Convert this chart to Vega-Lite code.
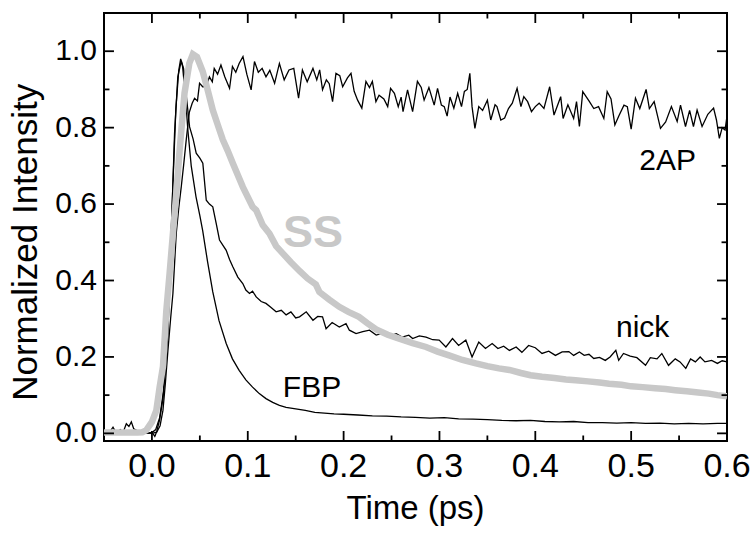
{
  "$schema": "https://vega.github.io/schema/vega-lite/v6.json",
  "width": 623,
  "height": 428,
  "autosize": {"type": "none"},
  "padding": {"left": 104, "top": 13, "right": 27, "bottom": 93},
  "background": "white",
  "config": {
    "view": {"stroke": "#000", "strokeWidth": 2},
    "font": "Liberation Sans"
  },
  "datasets": {
    "black": [
      {"s":"FBP","t":-0.050,"v":0.003},{"s":"FBP","t":-0.045,"v":0.000},{"s":"FBP","t":-0.040,"v":0.004},{"s":"FBP","t":-0.035,"v":0.001},{"s":"FBP","t":-0.030,"v":0.003},{"s":"FBP","t":-0.025,"v":0.000},{"s":"FBP","t":-0.020,"v":0.004},{"s":"FBP","t":-0.015,"v":0.001},{"s":"FBP","t":-0.010,"v":0.002},{"s":"FBP","t":-0.005,"v":0.000},{"s":"FBP","t":0.000,"v":0.002},{"s":"FBP","t":0.004,"v":0.010},{"s":"FBP","t":0.008,"v":0.040},{"s":"FBP","t":0.012,"v":0.110},{"s":"FBP","t":0.016,"v":0.260},{"s":"FBP","t":0.019,"v":0.450},{"s":"FBP","t":0.022,"v":0.660},{"s":"FBP","t":0.025,"v":0.850},{"s":"FBP","t":0.028,"v":0.950},{"s":"FBP","t":0.030,"v":0.980},{"s":"FBP","t":0.032,"v":0.960},{"s":"FBP","t":0.035,"v":0.880},{"s":"FBP","t":0.0375,"v":0.794},{"s":"FBP","t":0.041,"v":0.700},{"s":"FBP","t":0.046,"v":0.619},{"s":"FBP","t":0.050,"v":0.570},{"s":"FBP","t":0.053,"v":0.530},{"s":"FBP","t":0.058,"v":0.450},{"s":"FBP","t":0.0635,"v":0.370},{"s":"FBP","t":0.070,"v":0.295},{"s":"FBP","t":0.0775,"v":0.235},{"s":"FBP","t":0.084,"v":0.195},{"s":"FBP","t":0.091,"v":0.165},{"s":"FBP","t":0.098,"v":0.140},{"s":"FBP","t":0.105,"v":0.121},{"s":"FBP","t":0.112,"v":0.104},{"s":"FBP","t":0.119,"v":0.091},{"s":"FBP","t":0.126,"v":0.081},{"s":"FBP","t":0.133,"v":0.073},{"s":"FBP","t":0.140,"v":0.068},{"s":"FBP","t":0.150,"v":0.064},{"s":"FBP","t":0.160,"v":0.060},{"s":"FBP","t":0.170,"v":0.055},{"s":"FBP","t":0.180,"v":0.053},{"s":"FBP","t":0.190,"v":0.051},{"s":"FBP","t":0.200,"v":0.050},{"s":"FBP","t":0.215,"v":0.048},{"s":"FBP","t":0.230,"v":0.046},{"s":"FBP","t":0.245,"v":0.045},{"s":"FBP","t":0.260,"v":0.043},{"s":"FBP","t":0.275,"v":0.042},{"s":"FBP","t":0.290,"v":0.040},{"s":"FBP","t":0.305,"v":0.041},{"s":"FBP","t":0.320,"v":0.038},{"s":"FBP","t":0.335,"v":0.037},{"s":"FBP","t":0.350,"v":0.036},{"s":"FBP","t":0.365,"v":0.034},{"s":"FBP","t":0.380,"v":0.033},{"s":"FBP","t":0.395,"v":0.034},{"s":"FBP","t":0.410,"v":0.031},{"s":"FBP","t":0.425,"v":0.030},{"s":"FBP","t":0.440,"v":0.031},{"s":"FBP","t":0.455,"v":0.028},{"s":"FBP","t":0.470,"v":0.028},{"s":"FBP","t":0.485,"v":0.027},{"s":"FBP","t":0.500,"v":0.028},{"s":"FBP","t":0.515,"v":0.026},{"s":"FBP","t":0.530,"v":0.027},{"s":"FBP","t":0.545,"v":0.025},{"s":"FBP","t":0.560,"v":0.026},{"s":"FBP","t":0.575,"v":0.025},{"s":"FBP","t":0.590,"v":0.026},{"s":"FBP","t":0.600,"v":0.026},

      {"s":"nick","t":-0.050,"v":0.005},{"s":"nick","t":-0.045,"v":0.000},{"s":"nick","t":-0.0406,"v":0.016},{"s":"nick","t":-0.037,"v":0.000},{"s":"nick","t":-0.033,"v":0.010},{"s":"nick","t":-0.030,"v":0.003},{"s":"nick","t":-0.0267,"v":0.025},{"s":"nick","t":-0.024,"v":0.018},{"s":"nick","t":-0.0215,"v":0.030},{"s":"nick","t":-0.019,"v":0.012},{"s":"nick","t":-0.016,"v":0.008},{"s":"nick","t":-0.012,"v":0.002},{"s":"nick","t":-0.008,"v":0.006},{"s":"nick","t":-0.004,"v":0.000},{"s":"nick","t":0.000,"v":0.003},{"s":"nick","t":0.003,"v":-0.008},{"s":"nick","t":0.005,"v":0.005},{"s":"nick","t":0.008,"v":0.035},{"s":"nick","t":0.0115,"v":0.090},{"s":"nick","t":0.0145,"v":0.180},{"s":"nick","t":0.0167,"v":0.261},{"s":"nick","t":0.0202,"v":0.523},{"s":"nick","t":0.0236,"v":0.785},{"s":"nick","t":0.027,"v":0.933},{"s":"nick","t":0.0306,"v":0.975},{"s":"nick","t":0.033,"v":0.955},{"s":"nick","t":0.036,"v":0.880},{"s":"nick","t":0.0393,"v":0.802},{"s":"nick","t":0.043,"v":0.770},{"s":"nick","t":0.0462,"v":0.733},{"s":"nick","t":0.050,"v":0.720},{"s":"nick","t":0.0531,"v":0.707},{"s":"nick","t":0.0567,"v":0.610},{"s":"nick","t":0.060,"v":0.600},{"s":"nick","t":0.0635,"v":0.593},{"s":"nick","t":0.067,"v":0.550},{"s":"nick","t":0.0705,"v":0.506},{"s":"nick","t":0.0775,"v":0.479},{"s":"nick","t":0.081,"v":0.455},{"s":"nick","t":0.0844,"v":0.436},{"s":"nick","t":0.0896,"v":0.409},{"s":"nick","t":0.0948,"v":0.392},{"s":"nick","t":0.098,"v":0.375},{"s":"nick","t":0.1018,"v":0.366},{"s":"nick","t":0.105,"v":0.372},{"s":"nick","t":0.1088,"v":0.357},{"s":"nick","t":0.114,"v":0.345},{"s":"nick","t":0.119,"v":0.340},{"s":"nick","t":0.124,"v":0.330},{"s":"nick","t":0.1296,"v":0.318},{"s":"nick","t":0.135,"v":0.322},{"s":"nick","t":0.140,"v":0.310},{"s":"nick","t":0.145,"v":0.318},{"s":"nick","t":0.150,"v":0.302},{"s":"nick","t":0.154,"v":0.305},{"s":"nick","t":0.161,"v":0.318},{"s":"nick","t":0.168,"v":0.296},{"s":"nick","t":0.173,"v":0.306},{"s":"nick","t":0.178,"v":0.305},{"s":"nick","t":0.1817,"v":0.274},{"s":"nick","t":0.188,"v":0.290},{"s":"nick","t":0.1955,"v":0.278},{"s":"nick","t":0.2025,"v":0.287},{"s":"nick","t":0.206,"v":0.270},{"s":"nick","t":0.213,"v":0.261},{"s":"nick","t":0.220,"v":0.266},{"s":"nick","t":0.227,"v":0.270},{"s":"nick","t":0.234,"v":0.257},{"s":"nick","t":0.241,"v":0.262},{"s":"nick","t":0.248,"v":0.255},{"s":"nick","t":0.255,"v":0.261},{"s":"nick","t":0.261,"v":0.252},{"s":"nick","t":0.268,"v":0.257},{"s":"nick","t":0.272,"v":0.248},{"s":"nick","t":0.279,"v":0.255},{"s":"nick","t":0.286,"v":0.252},{"s":"nick","t":0.293,"v":0.245},{"s":"nick","t":0.2997,"v":0.244},{"s":"nick","t":0.3067,"v":0.226},{"s":"nick","t":0.3136,"v":0.248},{"s":"nick","t":0.320,"v":0.230},{"s":"nick","t":0.3275,"v":0.244},{"s":"nick","t":0.334,"v":0.200},{"s":"nick","t":0.341,"v":0.239},{"s":"nick","t":0.348,"v":0.222},{"s":"nick","t":0.355,"v":0.235},{"s":"nick","t":0.361,"v":0.222},{"s":"nick","t":0.367,"v":0.228},{"s":"nick","t":0.373,"v":0.217},{"s":"nick","t":0.380,"v":0.226},{"s":"nick","t":0.386,"v":0.212},{"s":"nick","t":0.393,"v":0.230},{"s":"nick","t":0.400,"v":0.224},{"s":"nick","t":0.407,"v":0.209},{"s":"nick","t":0.414,"v":0.215},{"s":"nick","t":0.421,"v":0.204},{"s":"nick","t":0.428,"v":0.213},{"s":"nick","t":0.435,"v":0.214},{"s":"nick","t":0.440,"v":0.204},{"s":"nick","t":0.446,"v":0.213},{"s":"nick","t":0.451,"v":0.204},{"s":"nick","t":0.456,"v":0.207},{"s":"nick","t":0.461,"v":0.196},{"s":"nick","t":0.467,"v":0.199},{"s":"nick","t":0.473,"v":0.191},{"s":"nick","t":0.478,"v":0.200},{"s":"nick","t":0.484,"v":0.217},{"s":"nick","t":0.487,"v":0.191},{"s":"nick","t":0.492,"v":0.209},{"s":"nick","t":0.499,"v":0.202},{"s":"nick","t":0.506,"v":0.198},{"s":"nick","t":0.515,"v":0.178},{"s":"nick","t":0.520,"v":0.198},{"s":"nick","t":0.527,"v":0.195},{"s":"nick","t":0.532,"v":0.209},{"s":"nick","t":0.539,"v":0.178},{"s":"nick","t":0.546,"v":0.195},{"s":"nick","t":0.551,"v":0.187},{"s":"nick","t":0.557,"v":0.170},{"s":"nick","t":0.562,"v":0.195},{"s":"nick","t":0.567,"v":0.187},{"s":"nick","t":0.572,"v":0.200},{"s":"nick","t":0.577,"v":0.187},{"s":"nick","t":0.584,"v":0.191},{"s":"nick","t":0.590,"v":0.183},{"s":"nick","t":0.595,"v":0.190},{"s":"nick","t":0.600,"v":0.187},

      {"s":"2AP","t":-0.050,"v":0.002},{"s":"2AP","t":-0.040,"v":0.000},{"s":"2AP","t":-0.030,"v":0.003},{"s":"2AP","t":-0.020,"v":0.001},{"s":"2AP","t":-0.010,"v":0.002},{"s":"2AP","t":0.000,"v":0.000},{"s":"2AP","t":0.005,"v":0.003},{"s":"2AP","t":0.0085,"v":0.020},{"s":"2AP","t":0.0115,"v":0.060},{"s":"2AP","t":0.014,"v":0.130},{"s":"2AP","t":0.0167,"v":0.217},{"s":"2AP","t":0.0195,"v":0.300},{"s":"2AP","t":0.0219,"v":0.366},{"s":"2AP","t":0.0254,"v":0.524},{"s":"2AP","t":0.028,"v":0.590},{"s":"2AP","t":0.0306,"v":0.645},{"s":"2AP","t":0.033,"v":0.700},{"s":"2AP","t":0.0358,"v":0.768},{"s":"2AP","t":0.039,"v":0.840},{"s":"2AP","t":0.042,"v":0.864},{"s":"2AP","t":0.0445,"v":0.877},{"s":"2AP","t":0.0475,"v":0.870},{"s":"2AP","t":0.0497,"v":0.916},{"s":"2AP","t":0.053,"v":0.907},{"s":"2AP","t":0.0566,"v":0.907},{"s":"2AP","t":0.060,"v":0.933},{"s":"2AP","t":0.063,"v":0.920},{"s":"2AP","t":0.065,"v":0.955},{"s":"2AP","t":0.0685,"v":0.940},{"s":"2AP","t":0.072,"v":0.964},{"s":"2AP","t":0.076,"v":0.933},{"s":"2AP","t":0.081,"v":0.903},{"s":"2AP","t":0.084,"v":0.960},{"s":"2AP","t":0.0875,"v":0.945},{"s":"2AP","t":0.091,"v":0.968},{"s":"2AP","t":0.095,"v":0.986},{"s":"2AP","t":0.099,"v":0.940},{"s":"2AP","t":0.1035,"v":0.899},{"s":"2AP","t":0.107,"v":0.973},{"s":"2AP","t":0.111,"v":0.945},{"s":"2AP","t":0.115,"v":0.955},{"s":"2AP","t":0.119,"v":0.933},{"s":"2AP","t":0.123,"v":0.950},{"s":"2AP","t":0.128,"v":0.916},{"s":"2AP","t":0.133,"v":0.968},{"s":"2AP","t":0.138,"v":0.925},{"s":"2AP","t":0.143,"v":0.951},{"s":"2AP","t":0.148,"v":0.955},{"s":"2AP","t":0.153,"v":0.877},{"s":"2AP","t":0.157,"v":0.951},{"s":"2AP","t":0.162,"v":0.920},{"s":"2AP","t":0.168,"v":0.955},{"s":"2AP","t":0.172,"v":0.925},{"s":"2AP","t":0.175,"v":0.951},{"s":"2AP","t":0.178,"v":0.899},{"s":"2AP","t":0.182,"v":0.925},{"s":"2AP","t":0.185,"v":0.915},{"s":"2AP","t":0.1885,"v":0.868},{"s":"2AP","t":0.192,"v":0.942},{"s":"2AP","t":0.196,"v":0.936},{"s":"2AP","t":0.199,"v":0.907},{"s":"2AP","t":0.204,"v":0.930},{"s":"2AP","t":0.2077,"v":0.942},{"s":"2AP","t":0.211,"v":0.895},{"s":"2AP","t":0.2146,"v":0.872},{"s":"2AP","t":0.219,"v":0.851},{"s":"2AP","t":0.2233,"v":0.921},{"s":"2AP","t":0.227,"v":0.905},{"s":"2AP","t":0.230,"v":0.921},{"s":"2AP","t":0.2337,"v":0.868},{"s":"2AP","t":0.237,"v":0.885},{"s":"2AP","t":0.242,"v":0.875},{"s":"2AP","t":0.246,"v":0.855},{"s":"2AP","t":0.249,"v":0.903},{"s":"2AP","t":0.253,"v":0.890},{"s":"2AP","t":0.257,"v":0.855},{"s":"2AP","t":0.260,"v":0.880},{"s":"2AP","t":0.262,"v":0.842},{"s":"2AP","t":0.2667,"v":0.899},{"s":"2AP","t":0.272,"v":0.842},{"s":"2AP","t":0.277,"v":0.921},{"s":"2AP","t":0.281,"v":0.905},{"s":"2AP","t":0.284,"v":0.872},{"s":"2AP","t":0.289,"v":0.905},{"s":"2AP","t":0.2945,"v":0.859},{"s":"2AP","t":0.298,"v":0.903},{"s":"2AP","t":0.302,"v":0.859},{"s":"2AP","t":0.305,"v":0.855},{"s":"2AP","t":0.308,"v":0.830},{"s":"2AP","t":0.311,"v":0.880},{"s":"2AP","t":0.315,"v":0.851},{"s":"2AP","t":0.319,"v":0.890},{"s":"2AP","t":0.323,"v":0.855},{"s":"2AP","t":0.326,"v":0.895},{"s":"2AP","t":0.329,"v":0.900},{"s":"2AP","t":0.3317,"v":0.942},{"s":"2AP","t":0.334,"v":0.855},{"s":"2AP","t":0.337,"v":0.798},{"s":"2AP","t":0.341,"v":0.855},{"s":"2AP","t":0.345,"v":0.845},{"s":"2AP","t":0.350,"v":0.872},{"s":"2AP","t":0.3535,"v":0.820},{"s":"2AP","t":0.358,"v":0.860},{"s":"2AP","t":0.360,"v":0.855},{"s":"2AP","t":0.364,"v":0.820},{"s":"2AP","t":0.368,"v":0.825},{"s":"2AP","t":0.372,"v":0.850},{"s":"2AP","t":0.376,"v":0.864},{"s":"2AP","t":0.381,"v":0.903},{"s":"2AP","t":0.385,"v":0.855},{"s":"2AP","t":0.388,"v":0.881},{"s":"2AP","t":0.392,"v":0.868},{"s":"2AP","t":0.396,"v":0.842},{"s":"2AP","t":0.400,"v":0.855},{"s":"2AP","t":0.404,"v":0.864},{"s":"2AP","t":0.409,"v":0.850},{"s":"2AP","t":0.415,"v":0.907},{"s":"2AP","t":0.4195,"v":0.833},{"s":"2AP","t":0.4265,"v":0.881},{"s":"2AP","t":0.429,"v":0.824},{"s":"2AP","t":0.434,"v":0.860},{"s":"2AP","t":0.440,"v":0.824},{"s":"2AP","t":0.443,"v":0.868},{"s":"2AP","t":0.446,"v":0.803},{"s":"2AP","t":0.4495,"v":0.894},{"s":"2AP","t":0.456,"v":0.870},{"s":"2AP","t":0.461,"v":0.850},{"s":"2AP","t":0.466,"v":0.855},{"s":"2AP","t":0.4715,"v":0.824},{"s":"2AP","t":0.475,"v":0.894},{"s":"2AP","t":0.479,"v":0.875},{"s":"2AP","t":0.483,"v":0.807},{"s":"2AP","t":0.487,"v":0.830},{"s":"2AP","t":0.4925,"v":0.859},{"s":"2AP","t":0.496,"v":0.855},{"s":"2AP","t":0.500,"v":0.796},{"s":"2AP","t":0.5045,"v":0.877},{"s":"2AP","t":0.509,"v":0.850},{"s":"2AP","t":0.5156,"v":0.900},{"s":"2AP","t":0.519,"v":0.850},{"s":"2AP","t":0.524,"v":0.868},{"s":"2AP","t":0.5306,"v":0.798},{"s":"2AP","t":0.536,"v":0.815},{"s":"2AP","t":0.542,"v":0.855},{"s":"2AP","t":0.548,"v":0.816},{"s":"2AP","t":0.5515,"v":0.859},{"s":"2AP","t":0.5567,"v":0.803},{"s":"2AP","t":0.561,"v":0.845},{"s":"2AP","t":0.565,"v":0.803},{"s":"2AP","t":0.5688,"v":0.846},{"s":"2AP","t":0.574,"v":0.803},{"s":"2AP","t":0.580,"v":0.835},{"s":"2AP","t":0.586,"v":0.851},{"s":"2AP","t":0.589,"v":0.820},{"s":"2AP","t":0.592,"v":0.772},{"s":"2AP","t":0.595,"v":0.800},{"s":"2AP","t":0.598,"v":0.794},{"s":"2AP","t":0.600,"v":0.830}
    ],
    "ss": [
      {"t":-0.050,"v":0.002},{"t":-0.030,"v":0.002},{"t":-0.015,"v":0.002},{"t":-0.010,"v":0.003},{"t":-0.006,"v":0.008},{"t":0.000,"v":0.030},{"t":0.0046,"v":0.060},{"t":0.008,"v":0.120},{"t":0.0115,"v":0.174},{"t":0.015,"v":0.320},{"t":0.0185,"v":0.420},{"t":0.0219,"v":0.523},{"t":0.0255,"v":0.630},{"t":0.0289,"v":0.741},{"t":0.034,"v":0.890},{"t":0.039,"v":0.968},{"t":0.0427,"v":0.992},{"t":0.047,"v":0.985},{"t":0.053,"v":0.947},{"t":0.058,"v":0.900},{"t":0.0635,"v":0.846},{"t":0.069,"v":0.805},{"t":0.074,"v":0.768},{"t":0.079,"v":0.740},{"t":0.0844,"v":0.707},{"t":0.0948,"v":0.645},{"t":0.105,"v":0.593},{"t":0.1088,"v":0.584},{"t":0.1156,"v":0.545},{"t":0.1226,"v":0.523},{"t":0.1296,"v":0.490},{"t":0.1365,"v":0.471},{"t":0.145,"v":0.448},{"t":0.154,"v":0.425},{"t":0.1625,"v":0.405},{"t":0.171,"v":0.390},{"t":0.1747,"v":0.370},{"t":0.185,"v":0.350},{"t":0.1955,"v":0.331},{"t":0.205,"v":0.318},{"t":0.216,"v":0.305},{"t":0.225,"v":0.288},{"t":0.234,"v":0.272},{"t":0.246,"v":0.258},{"t":0.258,"v":0.248},{"t":0.272,"v":0.236},{"t":0.286,"v":0.226},{"t":0.298,"v":0.214},{"t":0.310,"v":0.204},{"t":0.324,"v":0.192},{"t":0.338,"v":0.183},{"t":0.350,"v":0.176},{"t":0.362,"v":0.170},{"t":0.373,"v":0.166},{"t":0.385,"v":0.158},{"t":0.395,"v":0.152},{"t":0.407,"v":0.148},{"t":0.420,"v":0.145},{"t":0.432,"v":0.141},{"t":0.442,"v":0.139},{"t":0.455,"v":0.136},{"t":0.467,"v":0.133},{"t":0.477,"v":0.130},{"t":0.490,"v":0.127},{"t":0.500,"v":0.123},{"t":0.512,"v":0.121},{"t":0.525,"v":0.118},{"t":0.536,"v":0.116},{"t":0.546,"v":0.113},{"t":0.558,"v":0.110},{"t":0.570,"v":0.107},{"t":0.581,"v":0.104},{"t":0.590,"v":0.100},{"t":0.600,"v":0.097}
    ],
    "labels": [
      {"label":"2AP","t":0.538,"v":0.689},
      {"label":"nick","t":0.512,"v":0.2515},
      {"label":"FBP","t":0.167,"v":0.094}
    ],
    "sslabel": [
      {"label":"SS","t":0.168,"v":0.487}
    ],
    "xlabels": [
      {"label":"0.0","t":0.0,"v":-0.02},{"label":"0.1","t":0.1,"v":-0.02},{"label":"0.2","t":0.2,"v":-0.02},{"label":"0.3","t":0.3,"v":-0.02},{"label":"0.4","t":0.4,"v":-0.02},{"label":"0.5","t":0.5,"v":-0.02},{"label":"0.6","t":0.6,"v":-0.02}
    ],
    "ylabels": [
      {"label":"0.0","t":-0.05,"v":0.0},{"label":"0.2","t":-0.05,"v":0.2},{"label":"0.4","t":-0.05,"v":0.4},{"label":"0.6","t":-0.05,"v":0.6},{"label":"0.8","t":-0.05,"v":0.8},{"label":"1.0","t":-0.05,"v":1.0}
    ],
    "xtitle": [
      {"label":"Time (ps)","t":0.275,"v":-0.02}
    ],
    "ytitle": [
      {"label":"Normalized Intensity","t":-0.1318,"v":0.50}
    ],
    "xticks": [
      {"t":0.0,"v":-0.02,"v2":0.0062},{"t":0.1,"v":-0.02,"v2":0.0062},{"t":0.2,"v":-0.02,"v2":0.0062},{"t":0.3,"v":-0.02,"v2":0.0062},{"t":0.4,"v":-0.02,"v2":0.0062},{"t":0.5,"v":-0.02,"v2":0.0062},
      {"t":0.0,"v":1.1,"v2":1.0738},{"t":0.1,"v":1.1,"v2":1.0738},{"t":0.2,"v":1.1,"v2":1.0738},{"t":0.3,"v":1.1,"v2":1.0738},{"t":0.4,"v":1.1,"v2":1.0738},{"t":0.5,"v":1.1,"v2":1.0738},
      {"t":0.05,"v":-0.02,"v2":-0.0056},{"t":0.15,"v":-0.02,"v2":-0.0056},{"t":0.25,"v":-0.02,"v2":-0.0056},{"t":0.35,"v":-0.02,"v2":-0.0056},{"t":0.45,"v":-0.02,"v2":-0.0056},{"t":0.55,"v":-0.02,"v2":-0.0056},
      {"t":0.05,"v":1.1,"v2":1.0856},{"t":0.15,"v":1.1,"v2":1.0856},{"t":0.25,"v":1.1,"v2":1.0856},{"t":0.35,"v":1.1,"v2":1.0856},{"t":0.45,"v":1.1,"v2":1.0856},{"t":0.55,"v":1.1,"v2":1.0856}
    ],
    "yticks": [
      {"v":0.0,"t":-0.05,"t2":-0.0396},{"v":0.2,"t":-0.05,"t2":-0.0396},{"v":0.4,"t":-0.05,"t2":-0.0396},{"v":0.6,"t":-0.05,"t2":-0.0396},{"v":0.8,"t":-0.05,"t2":-0.0396},{"v":1.0,"t":-0.05,"t2":-0.0396},
      {"v":0.0,"t":0.6,"t2":0.5896},{"v":0.2,"t":0.6,"t2":0.5896},{"v":0.4,"t":0.6,"t2":0.5896},{"v":0.6,"t":0.6,"t2":0.5896},{"v":0.8,"t":0.6,"t2":0.5896},{"v":1.0,"t":0.6,"t2":0.5896},
      {"v":0.1,"t":-0.05,"t2":-0.0443},{"v":0.3,"t":-0.05,"t2":-0.0443},{"v":0.5,"t":-0.05,"t2":-0.0443},{"v":0.7,"t":-0.05,"t2":-0.0443},{"v":0.9,"t":-0.05,"t2":-0.0443},
      {"v":0.1,"t":0.6,"t2":0.5943},{"v":0.3,"t":0.6,"t2":0.5943},{"v":0.5,"t":0.6,"t2":0.5943},{"v":0.7,"t":0.6,"t2":0.5943},{"v":0.9,"t":0.6,"t2":0.5943}
    ]
  },
  "encoding": {
    "x": {
      "field": "t", "type": "quantitative",
      "scale": {"domain": [-0.05, 0.6], "nice": false, "zero": false},
      "axis": null
    },
    "y": {
      "field": "v", "type": "quantitative",
      "scale": {"domain": [-0.02, 1.1], "nice": false, "zero": false},
      "axis": null
    }
  },
  "layer": [
    {
      "data": {"name": "black"},
      "mark": {"type": "line", "color": "#000", "strokeWidth": 1.3, "clip": true},
      "encoding": {"detail": {"field": "s"}}
    },
    {
      "data": {"name": "ss"},
      "mark": {"type": "line", "color": "#c8c8c8", "strokeWidth": 6.5, "clip": true},
      "encoding": {}
    },
    {
      "data": {"name": "labels"},
      "mark": {"type": "text", "color": "#000", "fontSize": 30, "font": "Liberation Sans", "align": "center", "baseline": "alphabetic"},
      "encoding": {"text": {"field": "label"}}
    },
    {
      "data": {"name": "sslabel"},
      "mark": {"type": "text", "color": "#c8c8c8", "fontSize": 45, "fontWeight": "bold", "font": "Liberation Sans", "align": "center", "baseline": "alphabetic"},
      "encoding": {"text": {"field": "label"}}
    },
    {
      "data": {"name": "xlabels"},
      "mark": {"type": "text", "color": "#000", "fontSize": 34, "font": "Liberation Sans", "align": "center", "baseline": "alphabetic", "dy": 36},
      "encoding": {"text": {"field": "label"}}
    },
    {
      "data": {"name": "ylabels"},
      "mark": {"type": "text", "color": "#000", "fontSize": 30, "font": "Liberation Sans", "align": "right", "baseline": "middle", "dx": -7},
      "encoding": {"text": {"field": "label"}}
    },
    {
      "data": {"name": "xtitle"},
      "mark": {"type": "text", "color": "#000", "fontSize": 33, "font": "Liberation Sans", "align": "center", "baseline": "alphabetic", "dy": 78},
      "encoding": {"text": {"field": "label"}}
    },
    {
      "data": {"name": "ytitle"},
      "mark": {"type": "text", "color": "#000", "fontSize": 35, "font": "Liberation Sans", "align": "center", "baseline": "middle", "angle": 270},
      "encoding": {"text": {"field": "label"}}
    },
    {
      "data": {"name": "xticks"},
      "mark": {"type": "rule", "color": "#000", "strokeWidth": 1.8},
      "encoding": {"y2": {"field": "v2"}}
    },
    {
      "data": {"name": "yticks"},
      "mark": {"type": "rule", "color": "#000", "strokeWidth": 1.8},
      "encoding": {"x2": {"field": "t2"}}
    }
  ]
}
